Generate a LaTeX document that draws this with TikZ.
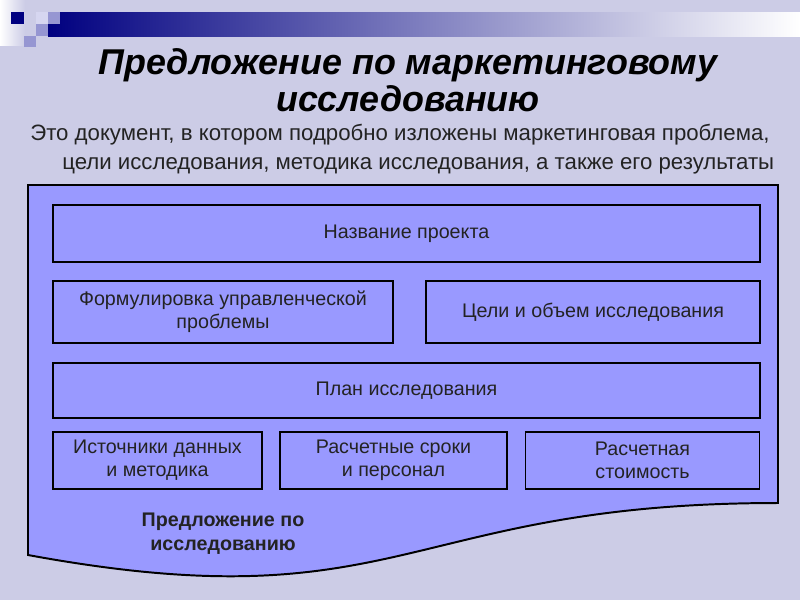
\documentclass[tikz,border=0pt]{standalone}
\usepackage{fontspec}
\setmainfont{Liberation Sans}
\usetikzlibrary{positioning}

\definecolor{bgcol}{RGB}{204,204,230}
\definecolor{docfill}{RGB}{153,153,255}
\definecolor{barnavy}{RGB}{0,0,128}
\definecolor{sqmid}{RGB}{150,150,210}
\definecolor{sqlight}{RGB}{214,214,240}
\definecolor{textgray}{RGB}{35,35,35}

\begin{document}
\begin{tikzpicture}[x=0.025cm,y=-0.025cm,
    box/.style={draw=black,line width=1.3pt,fill=docfill,inner sep=0pt,align=center,
      font=\fontsize{14}{16.5}\selectfont,text=textgray},
    boxrow/.style={box,minimum height=1.425cm}]
    % background and top bar
    \path[use as bounding box,fill=bgcol] (0,0) rectangle (800,600);
    \shade[left color=white,right color=bgcol] (0,0) rectangle (25,45);
    \shade[left color=barnavy,right color=white] (48,12) rectangle (800,36);
    \fill[barnavy] (11,12) rectangle ++(13,12);
    \fill[sqlight] (36,12) rectangle ++(12,12);
    \fill[sqmid] (48,12) rectangle ++(12,12);
    \fill[sqmid] (36,24) rectangle ++(12,12);
    \fill[sqmid] (24,36) rectangle ++(12,11);

    \node[font=\fontsize{25.5}{26}\selectfont\bfseries\itshape,align=center] (title) at (408,80)
      {Предложение по маркетинговому\\исследованию};
    \node[anchor=base west,inner sep=0pt,font=\fontsize{15.8}{20}\selectfont,text=textgray] (intro1) at (30,140)
      {Это документ, в котором подробно изложены маркетинговая проблема,};
    \node[anchor=base west,inner sep=0pt,font=\fontsize{15.8}{20}\selectfont,text=textgray] (intro2) at (62,169)
      {цели исследования, методика исследования, а также его результаты};

    % document shape
    \draw[line width=1.4pt,fill=docfill] (28,185) -- (778,185) -- (778,503)
      .. controls (403,503) and (403,624) .. (28,555) -- cycle;

    \node[boxrow,minimum width=17.675cm] (projname) at (406.5,233.5) {Название проекта};
    \node[box,minimum width=8.5cm,minimum height=1.55cm] (problem) at (223,312)
      {Формулировка управленческой\\проблемы};
    \node[box,minimum width=8.35cm,minimum height=1.55cm] (goals) at (593,312)
      {Цели и объем исследования};
    \node[box,minimum width=17.675cm,minimum height=1.375cm] (plan) at (406.5,390.5)
      {План исследования};
    \node[boxrow,minimum width=5.225cm] (sources) at (157.5,460.5) {Источники данных\\и методика};
    \node[boxrow,minimum width=5.675cm] (terms) at (393.5,460.5) {Расчетные сроки\\и персонал};
    \node[boxrow,minimum width=5.85cm] (cost) at (642.5,460.5) {Расчетная\\стоимость};

    \node[align=center,font=\fontsize{14}{17}\selectfont\bfseries,text=textgray] (caption) at (223,534)
      {Предложение по\\исследованию};
\end{tikzpicture}
\end{document}
